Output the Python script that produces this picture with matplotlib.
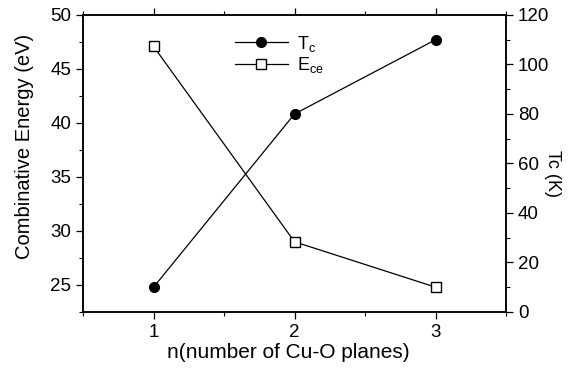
import numpy as np
import matplotlib
matplotlib.use('Agg')
import matplotlib.pyplot as plt
import matplotlib.ticker as ticker

plt.rcParams['font.family'] = ['Liberation Sans', 'DejaVu Sans']

n_planes = [1, 2, 3]
tc_vals = [10, 80, 110]          # K, right axis
ece_vals = [47.1, 29.0, 24.8]    # eV, left axis

fig = plt.figure(figsize=(5.74, 3.72), dpi=100)
ax = fig.add_axes([0.1446, 0.1613, 0.737, 0.7984])
ax2 = ax.twinx()

l1, = ax2.plot(n_planes, tc_vals, '-o', color='black', lw=0.9, ms=7, label='T$_\\mathregular{c}$')
l2, = ax.plot(n_planes, ece_vals, '-s', color='black', lw=0.9, ms=7, mfc='white', mew=1.0,
              label='E$_\\mathregular{ce}$')

ax.set_xlim(0.5, 3.5)
ax.set_ylim(22.5, 50)
ax2.set_ylim(0, 120)

ax.xaxis.set_major_locator(ticker.MultipleLocator(1))
ax.xaxis.set_minor_locator(ticker.MultipleLocator(0.5))
ax.yaxis.set_major_locator(ticker.MultipleLocator(5))
ax.yaxis.set_minor_locator(ticker.MultipleLocator(2.5))
ax2.yaxis.set_major_locator(ticker.MultipleLocator(20))
ax2.yaxis.set_minor_locator(ticker.MultipleLocator(10))

ax.tick_params(axis='both', which='major', labelsize=13.5, length=5, width=0.9, direction='out')
ax.tick_params(axis='both', which='minor', length=3, width=0.8, direction='out')
ax.tick_params(axis='x', which='both', top=True)
ax2.tick_params(axis='y', which='major', labelsize=13.5, length=5, width=0.9, direction='out')
ax2.tick_params(axis='y', which='minor', length=3, width=0.8, direction='out')

for a in (ax, ax2):
    for s in a.spines.values():
        s.set_linewidth(1.1)

ax.set_xlabel('n(number of Cu-O planes)', fontsize=15, labelpad=3)
ax.xaxis.set_label_coords(0.485, -0.105)
ax.set_ylabel('Combinative Energy (eV)', fontsize=14.5)
ax.yaxis.set_label_coords(-0.115, 0.556)
ax2.set_ylabel('Tc (K)', fontsize=13, rotation=270)
ax2.yaxis.set_label_coords(1.13, 0.465)

ax.legend([l1, l2], [l1.get_label(), l2.get_label()], loc='upper left',
          bbox_to_anchor=(0.33, 0.98), frameon=False, fontsize=13,
          handlelength=2.9, handletextpad=0.5, labelspacing=0.1, borderpad=0.2)

plt.savefig('out.png', dpi=100)
